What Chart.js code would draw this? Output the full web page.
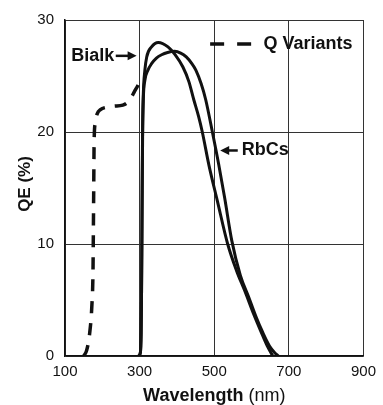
<!DOCTYPE html>
<html>
<head>
<meta charset="utf-8">
<script src="https://cdn.jsdelivr.net/npm/chart.js@4/dist/chart.umd.min.js"></script>
<style>
  html, body { margin: 0; padding: 0; background: #fff; }
  #qeChart { display: block; }
</style>
</head>
<body>
<canvas id="qeChart" width="383" height="405"></canvas>
<script>
// Wavelength (nm) / QE (%)
const bialkWl = [296, 302, 304, 305, 306, 307, 308, 310, 314, 319, 332, 350, 376, 395, 416, 432, 445, 458, 468, 486, 508, 536, 560, 582, 605, 625, 642, 657];
const bialkQe = [0, 0.3, 2, 5, 10, 16, 20.5, 23.5, 25.5, 26.7, 27.6, 28, 27.6, 26.9, 25.8, 24.5, 22.9, 21.4, 20, 17, 13.9, 10, 7.6, 5.8, 3.8, 2.2, 0.9, 0];

const rbcsWl = [298, 302, 304, 305, 306, 307, 308, 310, 314, 322, 332, 345, 359, 375, 394, 410, 425, 440, 451, 465, 477, 495, 512, 528, 547, 570, 593, 612, 630, 648, 662, 672];
const rbcsQe = [0, 0.3, 2, 5, 10, 15, 19.5, 23, 24.6, 25.5, 26.1, 26.6, 26.9, 27.1, 27.2, 27.05, 26.7, 26.1, 25.5, 24.3, 22.9, 20, 17.1, 14.1, 10.3, 7.2, 5.2, 3.5, 2.1, 0.9, 0.3, 0];

const qWl = [150, 158, 166, 172, 175, 176, 177, 178, 181, 186, 195, 210, 230, 255, 266, 276, 286, 296, 305];
const qQe = [0, 0.5, 2, 4.5, 7.5, 11, 15, 19, 20.8, 21.6, 22, 22.2, 22.3, 22.4, 22.6, 23, 23.6, 24.2, 24.8];

const xTicks = [100, 300, 500, 700, 900];
const yTicks = [0, 10, 20, 30];

const FONT = "'Liberation Sans', Arial, Helvetica, sans-serif";
const INK = '#111';

function toPoints(xs, ys) {
    return xs.map((v, i) => ({ x: v, y: ys[i] }));
}

// Draws the in-plot labels, arrows, the dashed key and both axis titles
const annotations = {
    id: 'annotations',
    afterDraw(chart) {
        const { ctx, scales: { x, y }, chartArea } = chart;
        ctx.save();
        ctx.fillStyle = INK;
        ctx.strokeStyle = INK;
        ctx.font = 'bold 18px ' + FONT;
        ctx.textBaseline = 'middle';

        function arrow(x1, x2, py) {
            const dir = x2 > x1 ? 1 : -1;
            ctx.lineWidth = 2.5;
            ctx.setLineDash([]);
            ctx.beginPath();
            ctx.moveTo(x1, py);
            ctx.lineTo(x2 - dir * 6, py);
            ctx.stroke();
            ctx.beginPath();
            ctx.moveTo(x2, py);
            ctx.lineTo(x2 - dir * 9, py - 4.5);
            ctx.lineTo(x2 - dir * 9, py + 4.5);
            ctx.closePath();
            ctx.fill();
        }

        // Bialk ->
        const by = y.getPixelForValue(26.8);
        ctx.textAlign = 'right';
        ctx.fillText('Bialk', x.getPixelForValue(232), by);
        arrow(x.getPixelForValue(236), x.getPixelForValue(292), by);

        // <- RbCs
        const ry = y.getPixelForValue(18.35);
        arrow(x.getPixelForValue(563), x.getPixelForValue(516), ry);
        ctx.textAlign = 'left';
        ctx.fillText('RbCs', x.getPixelForValue(574), ry);

        // dashed key
        const ky = y.getPixelForValue(27.85);
        ctx.lineWidth = 3.5;
        ctx.setLineDash([14, 13]);
        ctx.beginPath();
        ctx.moveTo(x.getPixelForValue(489), ky);
        ctx.lineTo(x.getPixelForValue(600), ky);
        ctx.stroke();
        ctx.setLineDash([]);
        ctx.fillText('Q Variants', x.getPixelForValue(632), ky);

        // x axis title, mixed weights
        const boldPart = 'Wavelength';
        const plainPart = ' (nm)';
        ctx.font = 'bold 18px ' + FONT;
        const w1 = ctx.measureText(boldPart).width;
        ctx.font = '18px ' + FONT;
        const w2 = ctx.measureText(plainPart).width;
        const startX = x.getPixelForValue(500) - (w1 + w2) / 2;
        ctx.textBaseline = 'alphabetic';
        ctx.textAlign = 'left';
        ctx.font = 'bold 18px ' + FONT;
        ctx.fillText(boldPart, startX, 401);
        ctx.font = '18px ' + FONT;
        ctx.fillText(plainPart, startX + w1, 401);

        // y axis title
        ctx.translate(25, (chartArea.top + chartArea.bottom) / 2 - 4);
        ctx.rotate(-Math.PI / 2);
        ctx.textAlign = 'center';
        ctx.textBaseline = 'middle';
        ctx.font = 'bold 17px ' + FONT;
        ctx.fillText('QE (%)', 0, 0);
        ctx.restore();
    }
};

const ctx = document.getElementById('qeChart').getContext('2d');

new Chart(ctx, {
    type: 'line',
    data: {
        datasets: [
            {
                label: 'Bialk',
                data: toPoints(bialkWl, bialkQe),
                borderColor: INK,
                borderWidth: 3,
                pointRadius: 0,
                cubicInterpolationMode: 'monotone',
                fill: false
            },
            {
                label: 'RbCs',
                data: toPoints(rbcsWl, rbcsQe),
                borderColor: INK,
                borderWidth: 3,
                pointRadius: 0,
                cubicInterpolationMode: 'monotone',
                fill: false
            },
            {
                label: 'Q Variants',
                data: toPoints(qWl, qQe),
                borderColor: INK,
                borderWidth: 3.5,
                borderDash: [12, 10],
                pointRadius: 0,
                cubicInterpolationMode: 'monotone',
                fill: false
            }
        ]
    },
    options: {
        responsive: false,
        animation: false,
        devicePixelRatio: 1,
        layout: { padding: { left: 0, right: 14, top: 16, bottom: 0 } },
        plugins: {
            legend: { display: false },
            tooltip: { enabled: false }
        },
        scales: {
            x: {
                type: 'linear',
                min: xTicks[0],
                max: xTicks[xTicks.length - 1],
                afterBuildTicks: axis => { axis.ticks = xTicks.map(v => ({ value: v })); },
                afterFit: axis => { axis.height = 49; },
                grid: { color: '#333', lineWidth: 1, drawTicks: false },
                border: { color: INK, width: 1.5 },
                ticks: { color: INK, padding: 7, font: { family: FONT, size: 15 } }
            },
            y: {
                min: yTicks[0],
                max: yTicks[yTicks.length - 1],
                afterBuildTicks: axis => { axis.ticks = yTicks.map(v => ({ value: v })); },
                afterFit: axis => { axis.width = 65; },
                grid: { color: '#333', lineWidth: 1, drawTicks: false },
                border: { color: INK, width: 1.5 },
                ticks: { color: INK, padding: 11, font: { family: FONT, size: 15 } }
            }
        }
    },
    plugins: [annotations]
});
</script>
</body>
</html>
